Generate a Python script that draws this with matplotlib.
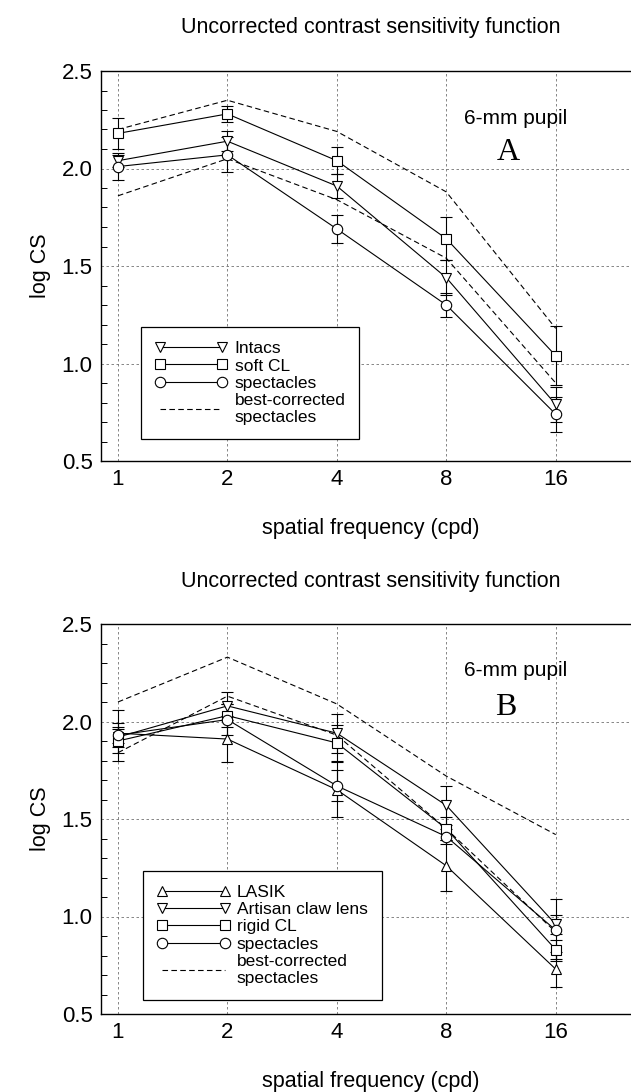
import numpy as np
import matplotlib
matplotlib.use('Agg')
import matplotlib.pyplot as plt
from matplotlib.lines import Line2D
from matplotlib.ticker import FixedLocator, MultipleLocator, FormatStrFormatter

plt.rcParams['font.family'] = ['Liberation Sans', 'DejaVu Sans']

freq = [1, 2, 4, 8, 16]
freq_labels = ['1', '2', '4', '8', '16']

# --- panel A ---
a_intacs = [2.04, 2.14, 1.91, 1.44, 0.79]
a_intacs_err = [0.03, 0.05, 0.06, 0.09, 0.09]
a_softcl = [2.18, 2.28, 2.04, 1.64, 1.04]
a_softcl_err = [0.08, 0.04, 0.07, 0.11, 0.15]
a_spect = [2.01, 2.07, 1.69, 1.30, 0.74]
a_spect_err = [0.07, 0.09, 0.07, 0.06, 0.09]
a_best_hi = [2.20, 2.35, 2.19, 1.88, 1.18]
a_best_lo = [1.86, 2.05, 1.84, 1.54, 0.90]

# --- panel B ---
b_lasik = [1.94, 1.91, 1.65, 1.26, 0.73]
b_lasik_err = [0.05, 0.12, 0.14, 0.13, 0.09]
b_artisan = [1.92, 2.08, 1.94, 1.57, 0.96]
b_artisan_err = [0.05, 0.07, 0.10, 0.10, 0.05]
b_rigid = [1.90, 2.03, 1.89, 1.45, 0.83]
b_rigid_err = [0.06, 0.06, 0.09, 0.06, 0.05]
b_spect = [1.93, 2.01, 1.67, 1.41, 0.93]
b_spect_err = [0.13, 0.08, 0.08, 0.04, 0.16]
b_best_hi = [2.10, 2.33, 2.09, 1.72, 1.42]
b_best_lo = [1.84, 2.13, 1.93, 1.45, 0.92]

W, H = 631, 1092
fig = plt.figure(figsize=(W / 100, H / 100), dpi=100)

mark_kw = dict(color='black', lw=0.8, mfc='white', mec='black', mew=0.8, ms=7.5)
err_kw = dict(capsize=4, elinewidth=0.8, capthick=0.8, ecolor='black')
dash_kw = dict(color='black', lw=0.8, ls=(0, (5, 3)))


def setup_axes(top_px, bottom_px):
    left_px, right_px = 101, 640
    ax = fig.add_axes([left_px / W, 1 - bottom_px / H,
                       (right_px - left_px) / W, (bottom_px - top_px) / H])
    ax.set_xscale('log', base=2)
    ax.set_xlim(2 ** -0.155, 2 ** 4.77)
    ax.set_ylim(0.5, 2.5)
    ax.xaxis.set_major_locator(FixedLocator(freq))
    ax.xaxis.set_minor_locator(FixedLocator([]))
    ax.set_xticklabels(freq_labels)
    ax.yaxis.set_major_locator(MultipleLocator(0.5))
    ax.yaxis.set_minor_locator(MultipleLocator(0.1))
    ax.yaxis.set_major_formatter(FormatStrFormatter('%.1f'))
    ax.tick_params(axis='both', which='major', labelsize=16, direction='in',
                   length=0, pad=6)
    ax.tick_params(axis='y', which='minor', direction='in', length=4, width=0.7)
    ax.grid(True, which='major', color='0.45', lw=0.6, ls=(0, (3, 3)))
    for s in ax.spines.values():
        s.set_linewidth(1.0)
    ax.set_title('Uncorrected contrast sensitivity function', fontsize=15.5, pad=27)
    ax.set_xlabel('spatial frequency (cpd)', fontsize=15.5, labelpad=20)
    ax.set_ylabel('log CS', fontsize=15.5, labelpad=8)
    return ax


def draw(ax, series, best_hi, best_lo):
    handles = []
    for vals, errs, marker, label in series:
        ax.errorbar(freq, vals, yerr=errs, marker=marker, **mark_kw, **err_kw)
        handles.append(Line2D([], [], marker=marker, label=label, **mark_kw))
    ax.plot(freq, best_hi, **dash_kw)
    ax.plot(freq, best_lo, **dash_kw)
    handles.append(Line2D([], [], label='best-corrected\nspectacles', **dash_kw))
    return handles


# panel A
axA = setup_axes(71, 461)
hA = draw(axA, [(a_intacs, a_intacs_err, 'v', 'Intacs'),
                (a_softcl, a_softcl_err, 's', 'soft CL'),
                (a_spect, a_spect_err, 'o', 'spectacles')], a_best_hi, a_best_lo)
axA.text(0.769, 0.878, '6-mm pupil', transform=axA.transAxes, ha='center',
         va='center', fontsize=15)
axA.text(0.755, 0.79, 'A', transform=axA.transAxes, ha='center', va='center',
         fontsize=23, family='Liberation Serif')

# panel B
axB = setup_axes(624, 1014)
hB = draw(axB, [(b_lasik, b_lasik_err, '^', 'LASIK'),
                (b_artisan, b_artisan_err, 'v', 'Artisan claw lens'),
                (b_rigid, b_rigid_err, 's', 'rigid CL'),
                (b_spect, b_spect_err, 'o', 'spectacles')], b_best_hi, b_best_lo)
axB.text(0.769, 0.88, '6-mm pupil', transform=axB.transAxes, ha='center',
         va='center', fontsize=15)
axB.text(0.75, 0.785, 'B', transform=axB.transAxes, ha='center', va='center',
         fontsize=23, family='Liberation Serif')

for ax, handles, anchor in ((axA, hA, (0.074, 0.056)), (axB, hB, (0.078, 0.036))):
    leg = ax.legend(handles=handles, loc='lower left', bbox_to_anchor=anchor,
                    borderaxespad=0, fontsize=12.5, numpoints=2, handlelength=4.2,
                    labelspacing=0.12, handletextpad=0.4, fancybox=False,
                    framealpha=1, edgecolor='black', borderpad=0.8)
    leg.get_frame().set_linewidth(0.9)

fig.savefig('out.png', dpi=100)
